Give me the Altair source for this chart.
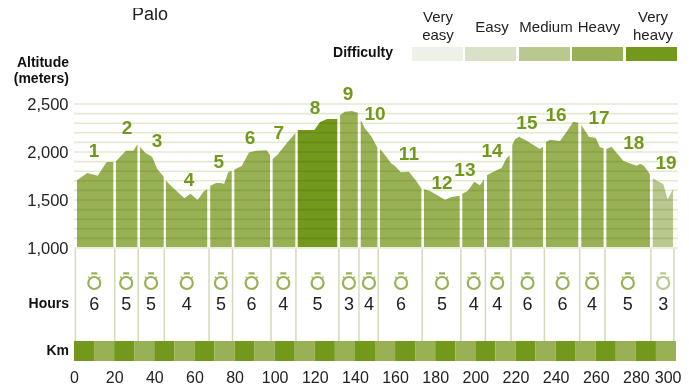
import altair as alt
import pandas as pd

FONT = "Liberation Sans"
INK = "#222222"

levels = ["Very easy", "Easy", "Medium", "Heavy", "Very heavy"]
level_colors = ["#eef1e6", "#d9e2c6", "#b8c88e", "#99b155", "#72981c"]

stage_km = [
    [1.5, 6.6, 11.8, 16.3, 19.6],
    [20.9, 25.9, 29.6, 31.6],
    [32.9, 35.5, 38.9, 41.5, 44.7],
    [45.8, 49.5, 55, 58.1, 61.6, 64.5, 66.4],
    [67.9, 70.8, 73.1, 74.8, 76.9, 78.6],
    [79.9, 83.6, 87.2, 91, 96, 97.7],
    [99, 101.3, 106, 110.3],
    [111.5, 119.8, 122.6, 126.2, 131.2],
    [132.6, 135, 138.4, 141.4],
    [142.9, 145, 148.3, 151.2],
    [152.5, 155, 158, 160, 162.8, 166.9, 170.8, 173.1],
    [174.4, 177.4, 184.9, 188.2, 192.2],
    [193.5, 196.2, 199.5, 202.3, 204.3],
    [205.8, 209, 213.1, 215.3, 217.1],
    [218.4, 219.8, 221.8, 225.6, 232.2, 233.7],
    [235.2, 237.2, 242.2, 245.5, 248.8, 251.3],
    [252.8, 256.6, 260, 262.1, 263.9],
    [265.3, 267.9, 273.8, 280.4, 282.1, 284, 287],
    [288.4, 293.7, 295.8, 298.5],
]
stage_alt = [
    [1705, 1781, 1753, 1896, 1896],
    [1903, 2014, 2014, 2080],
    [2052, 1993, 1951, 1823, 1743],
    [1701, 1625, 1517, 1566, 1500, 1587, 1615],
    [1649, 1677, 1677, 1667, 1792, 1802],
    [1819, 1854, 1996, 2014, 2017, 1969],
    [1927, 1969, 2090, 2198],
    [2229, 2229, 2312, 2344, 2344],
    [2385, 2420, 2427, 2410],
    [2333, 2246, 2160, 2045],
    [2031, 1969, 1882, 1854, 1788, 1795, 1691, 1621],
    [1611, 1594, 1503, 1531, 1545],
    [1566, 1594, 1691, 1653, 1715],
    [1757, 1795, 1833, 1927, 1965],
    [2073, 2132, 2160, 2118, 2031, 2055],
    [2104, 2128, 2115, 2212, 2316, 2305],
    [2281, 2160, 2146, 2049, 2038],
    [2031, 2055, 1906, 1858, 1878, 1858, 1767],
    [1726, 1663, 1507, 1611],
]
stage_level = ["Heavy"] * 7 + ["Very heavy"] + ["Heavy"] * 10 + ["Medium"]
stage_hours = [6, 5, 5, 4, 5, 6, 4, 5, 3, 4, 6, 5, 4, 4, 6, 6, 4, 5, 3]
stage_mid_km = [10.1, 26, 38.4, 56.2, 73.2, 88.5, 104.3, 121.4, 137, 147, 163,
                183.4, 199.2, 210.9, 226, 243.5, 258.2, 276, 293.6]
label_km = [10, 26.4, 41.4, 57.3, 72.2, 87.7, 102.1, 120.1, 136.5, 150, 166.9,
            183.4, 194.8, 208.3, 225.7, 240.2, 261.6, 279, 295]
label_alt = [2010, 2250, 2115, 1708, 1896, 2146, 2198, 2458, 2604, 2396, 1979,
             1677, 1813, 2010, 2302, 2385, 2354, 2094, 1886]
boundary_km = [0.7, 20.3, 32, 45, 67.3, 79, 98.2, 110.6, 132, 142, 151.6, 173.5,
               192.8, 205, 217.8, 234.4, 252, 264.6, 287.5, 299]
grid_alt = [1000, 1100, 1200, 1300, 1400, 1500, 1600, 1700, 1800, 1900, 2000,
            2100, 2200, 2300, 2400, 2500]
km_start = [0, 10, 20, 30, 40, 50, 60, 70, 80, 90, 100, 110, 120, 130, 140, 150,
            160, 170, 180, 190, 200, 210, 220, 230, 240, 250, 260, 270, 280, 290]
km_end = [10, 20, 30, 40, 50, 60, 70, 80, 90, 100, 110, 120, 130, 140, 150, 160,
          170, 180, 190, 200, 210, 220, 230, 240, 250, 260, 270, 280, 290, 300]
km_band = ["Very heavy", "Heavy"] * 15
x_ticks = [0, 20, 40, 60, 80, 100, 120, 140, 160, 180, 200, 220, 240, 260, 280, 300]
y_ticks = [1000, 1500, 2000, 2500]
area_floor = 1010

x_scale = alt.Scale(domain=[0, 300], range=[0, 602], nice=False, zero=False)
y_scale = alt.Scale(domain=[1000, 2500], range=[240, 96], nice=False, zero=False)
color_scale = alt.Scale(domain=levels, range=level_colors)
x_axis = alt.Axis(values=x_ticks, format="d", domain=False, ticks=False, grid=False,
                  labelFont=FONT, labelFontSize=16, labelColor=INK, labelPadding=1,
                  labelFlush=False, labelOverlap=False, title=None,
                  labelAlign=alt.expr("datum.value == 300 ? 'right' : 'center'"),
                  labelOffset=alt.expr("datum.value == 300 ? 5 : 0"))
y_axis = alt.Axis(values=y_ticks, format=",d", domain=False, ticks=False, grid=False,
                  labelFont=FONT, labelFontSize=16.5, labelColor=INK, labelPadding=6,
                  labelOverlap=False, title=None)


def X(field):
    return alt.X(field, scale=x_scale, axis=x_axis)


def Y(field):
    return alt.Y(field, scale=y_scale, axis=y_axis, stack=None)


rows = []
for i, (kms, alts) in enumerate(zip(stage_km, stage_alt)):
    for k, a in zip(kms, alts):
        rows.append({"stage": i + 1, "km": k, "alt": a, "floor": area_floor,
                     "level": stage_level[i]})
area_df = pd.DataFrame(rows)
stage_df = pd.DataFrame({
    "stage": [str(i + 1) for i in range(19)],
    "mid": stage_mid_km, "hours": stage_hours, "level": stage_level,
    "lx": label_km, "ly": label_alt,
})

areas = alt.Chart(area_df).mark_area(interpolate="linear").encode(
    x=X("km:Q"), y=Y("alt:Q"), y2="floor:Q",
    detail="stage:N",
    color=alt.Color("level:N", scale=color_scale, legend=None),
)

grid = alt.Chart(pd.DataFrame({"g": grid_alt})).mark_rule(
    color="#e3e9d0", strokeWidth=1.6, blend="multiply"
).encode(
    y=Y("g:Q"),
    x=alt.value(0), x2=alt.value(604),
)

numbers = alt.Chart(stage_df).mark_text(
    font=FONT, fontSize=19, fontWeight="bold", color="#72981c"
).encode(
    x=X("lx:Q"), y=Y("ly:Q"), text="stage:N",
)

separators = alt.Chart(pd.DataFrame({"b": boundary_km})).mark_rule(
    color="#d3dbba", strokeWidth=1.5
).encode(
    x=X("b:Q"), y=alt.value(241), y2=alt.value(333),
)

WATCH = ("M-1,0A1,1 0 1,1 1,0A1,1 0 1,1 -1,0Z"
         "M-0.5,-1.6L0.5,-1.6"
         "M-0.95,-0.85L-0.8,-1M0.95,-0.85L0.8,-1")
watches = alt.Chart(stage_df).mark_point(
    shape=WATCH, size=144, filled=False, strokeWidth=2.2, opacity=1
).encode(
    x=X("mid:Q"),
    y=alt.value(275),
    stroke=alt.Color("level:N", scale=alt.Scale(
        domain=levels, range=["#eef1e6", "#d9e2c6", "#b8c88e", "#99b155", "#99b155"]), legend=None),
)
hours = alt.Chart(stage_df).mark_text(font=FONT, fontSize=18, color=INK).encode(
    x=X("mid:Q"), y=alt.value(297), text="hours:Q",
)

km_df = pd.DataFrame({"a": km_start, "b": km_end, "level": km_band})
km_rects = alt.Chart(km_df).mark_rect().encode(
    x=X("a:Q"), x2="b:Q",
    y=alt.value(333), y2=alt.value(353),
    color=alt.Color("level:N", scale=color_scale, legend=None),
)

# (text, x, y, align, size, weight) placed in plot-area pixels
annotations = [
    ("Puente", 76, -14, "center", 18, "normal"),
    ("Palo", 76, 7, "center", 18, "normal"),
    ("Altitude", -5, 55, "right", 14, "bold"),
    ("(meters)", -5, 71, "right", 14, "bold"),
    ("Hours", -5, 296, "right", 14, "bold"),
    ("Km", -5, 343, "right", 14, "bold"),
    ("Difficulty", 319, 45, "right", 14, "bold"),
    ("Very", 364, 9, "center", 15, "normal"),
    ("easy", 364, 27, "center", 15, "normal"),
    ("Easy", 418, 19, "center", 15, "normal"),
    ("Medium", 472, 19, "center", 15, "normal"),
    ("Heavy", 525, 19, "center", 15, "normal"),
    ("Very", 579, 9, "center", 15, "normal"),
    ("heavy", 579, 27, "center", 15, "normal"),
]
notes = []
for text, x, y, align, size, weight in annotations:
    notes.append(
        alt.Chart(pd.DataFrame({"t": [text]})).mark_text(
            font=FONT, fontSize=size, fontWeight=weight, align=align, baseline="middle",
            color="#111111" if weight == "bold" else INK,
        ).encode(x=alt.value(x), y=alt.value(y), text="t:N")
    )

swatch_x = [(338, 389), (391, 442), (445, 496), (498, 549), (552, 603)]
swatches = []
for lv, col, (a, b) in zip(levels, level_colors, swatch_x):
    swatches.append(
        alt.Chart(pd.DataFrame({"level": [lv]})).mark_rect(color=col).encode(
            x=alt.value(a), x2=alt.value(b), y=alt.value(39), y2=alt.value(53),
        )
    )

chart = alt.layer(
    areas, grid, numbers, separators, watches, hours, km_rects, *swatches, *notes
).resolve_scale(color="independent").properties(
    width=602, height=360,
    background="white",
    autosize=alt.AutoSizeParams(type="none"),
    padding={"left": 66, "top": 0, "right": 5, "bottom": 16},
).configure_view(stroke=None)

chart.save("out.html", embed_options={"renderer": "svg", "actions": False})
